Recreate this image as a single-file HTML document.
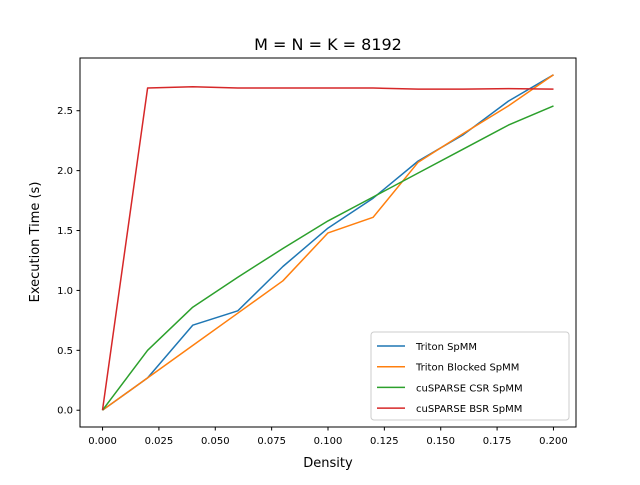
<!DOCTYPE html>
<html><head><meta charset="utf-8"><style>
body{margin:0;background:#fff}
svg{font-family:"DejaVu Sans","Liberation Sans",sans-serif}
</style></head><body>
<svg id="chart" width="640" height="480" xmlns="http://www.w3.org/2000/svg">
<rect width="640" height="480" fill="#fff"/>
<text x="328" y="50" font-size="16" text-anchor="middle">M = N = K = 8192</text>
<g id="grid"></g>
<g id="series"></g>
<rect x="80" y="58" width="496" height="369" fill="none" stroke="#000" stroke-width="1"/>
<g id="ticks"></g>
<text x="328" y="467" font-size="13" text-anchor="middle">Density</text>
<text transform="translate(39,242) rotate(-90)" font-size="13" text-anchor="middle">Execution Time (s)</text>
<g id="legend"></g>
</svg>
<script>
const densities=[0,0.02,0.04,0.06,0.08,0.10,0.12,0.14,0.16,0.18,0.20];
const tritonSpMM=[0,0.27,0.71,0.83,1.2,1.52,1.77,2.08,2.3,2.58,2.8];
const tritonBlocked=[0,0.27,0.54,0.81,1.08,1.48,1.61,2.07,2.31,2.54,2.80];
const cusparseCSR=[0,0.5,0.86,1.11,1.35,1.58,1.78,1.98,2.18,2.38,2.54];
const cusparseBSR=[0,2.69,2.70,2.69,2.69,2.69,2.69,2.68,2.68,2.685,2.68];
const seriesNames=["Triton SpMM","Triton Blocked SpMM","cuSPARSE CSR SpMM","cuSPARSE BSR SpMM"];
const xTicks=[0,0.025,0.05,0.075,0.1,0.125,0.15,0.175,0.2];
const xTickLabels=["0.000","0.025","0.050","0.075","0.100","0.125","0.150","0.175","0.200"];
const yTicks=[0,0.5,1,1.5,2,2.5];
const yTickLabels=["0.0","0.5","1.0","1.5","2.0","2.5"];

const NS="http://www.w3.org/2000/svg";
const colors=["#1f77b4","#ff7f0e","#2ca02c","#d62728"];
const allSeries=[tritonSpMM,tritonBlocked,cusparseCSR,cusparseBSR];
const X0=80,X1=576,Y0=427,Y1=58;
const xmin=-0.01,xmax=0.21;
let ymaxData=Math.max(...allSeries.flat()),yminData=Math.min(...allSeries.flat());
const ypad=(ymaxData-yminData)*0.05;
const ymin=yminData-ypad,ymax=ymaxData+ypad;
const sx=v=>X0+(v-xmin)/(xmax-xmin)*(X1-X0);
const sy=v=>Y0-(v-ymin)/(ymax-ymin)*(Y0-Y1);
function mk(tag,attrs,parent){const e=document.createElementNS(NS,tag);for(const k in attrs)e.setAttribute(k,attrs[k]);parent.appendChild(e);return e;}
const ticks=document.getElementById('ticks');
xTicks.forEach((t,i)=>{
  const l=mk('line',{x1:sx(t),x2:sx(t),y1:Y0,y2:Y0+3.5,stroke:'#000'},ticks);
  
  
  const tx=mk('text',{x:sx(t),y:Y0+17,'font-size':'10','text-anchor':'middle'},ticks);
  tx.textContent=xTickLabels[i];
  
  
});
yTicks.forEach((t,i)=>{
  const l=mk('line',{x1:X0-3.5,x2:X0,y1:sy(t),y2:sy(t),stroke:'#000'},ticks);
  
  
  const tx=mk('text',{x:X0-7,y:sy(t)+3.5,'font-size':'10','text-anchor':'end'},ticks);
  tx.textContent=yTickLabels[i];
  
  
});
const sg=document.getElementById('series');
allSeries.forEach((s,j)=>{
  const pts=s.map((v,i)=>sx(densities[i]).toFixed(1)+','+sy(v).toFixed(1)).join(' ');
  const p=mk('polyline',{points:pts,fill:'none',stroke:colors[j],'stroke-width':'1.5','stroke-linejoin':'round'},sg);
  
  
});
const lg=document.getElementById('legend');
const box=mk('rect',{x:371,y:332,width:198,height:88,rx:3,fill:'#fff','fill-opacity':'0.8',stroke:'#ccc'},lg);


seriesNames.forEach((n,j)=>{
  const y=346+j*20.7;
  const l=mk('line',{x1:377,x2:405,y1:y,y2:y,stroke:colors[j],'stroke-width':'1.5'},lg);
  
  
  const t=mk('text',{x:416,y:y+4,'font-size':'10'},lg);
  t.textContent=n;
  
  
});
</script>
</body></html>
